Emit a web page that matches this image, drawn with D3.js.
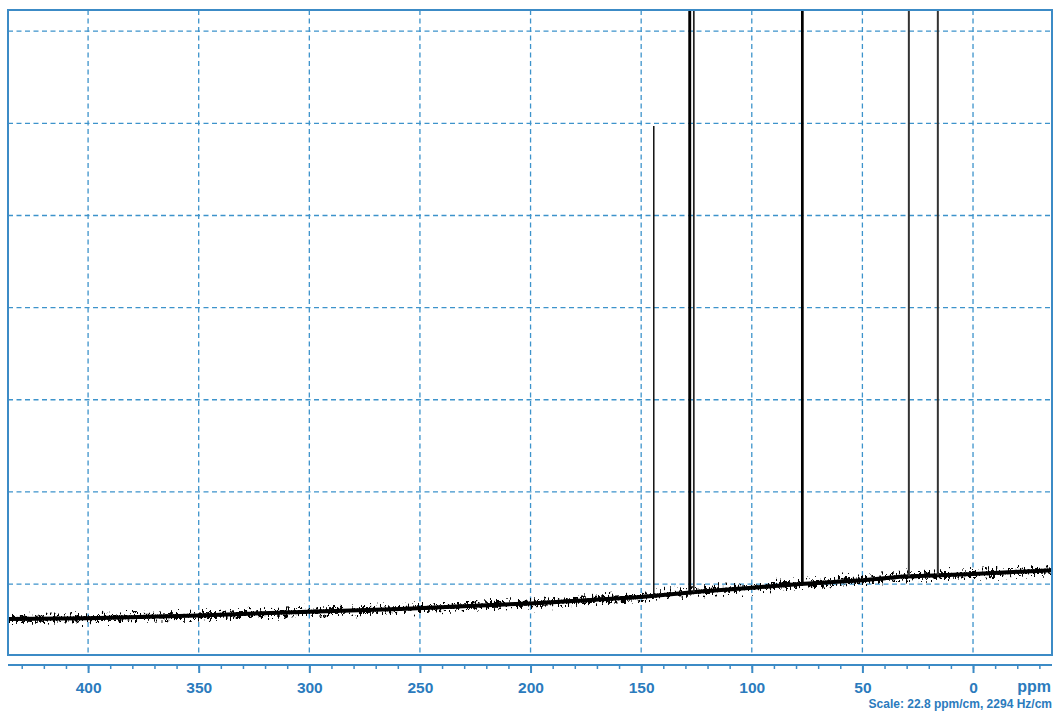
<!DOCTYPE html>
<html>
<head>
<meta charset="utf-8">
<script src="https://cdn.jsdelivr.net/npm/d3@7"></script>
<style>
  html, body { margin: 0; padding: 0; background: #ffffff; }
  svg { display: block; }
  text { font-family: "Liberation Sans", Arial, Helvetica, sans-serif; font-weight: bold; }
</style>
</head>
<body>
<svg id="chart" width="1055" height="711"></svg>
<script>
// 13C spectrum: sloping noisy baseline with sharp resonances (ppm)
const baselinePpm   = [436, 400, 350, 300, 259, 200, 150, 123, 100, 78, 50, 33, 0, -36];
const baselineLevel = [-3.8, -3.7, -3.4, -3.0, -2.7, -2.1, -1.4, -0.8, -0.4, 0.0, 0.4, 0.8, 1.1, 1.5];

// resonance positions and heights (intensity units; tall lines run off the top)
const peakPpm    = [144.3, 128.3, 127.8, 126.2, 77.4, 77.2, 76.9, 29.0, 15.9];
const peakHeight = [49.7, 140, 130, 95, 110, 115, 110, 80, 75];
const peakWidth  = [1.5, 1.8, 1.8, 1.7, 1.6, 1.6, 1.6, 2.0, 2.0];
const peakColor  = ["#111", "#000", "#000", "#222", "#000", "#000", "#000", "#333", "#333"];

const xTicks = [400, 350, 300, 250, 200, 150, 100, 50, 0];
const minorTicks = d3.range(430, -40, -10);
const yGrid = [0, 10, 20, 30, 40, 50, 60];

const frameColor = "#3c8bc6";
const gridColor  = "#3d93cb";
const labelColor = "#2b7bbd";

const plotLeft = 8, plotRight = 1052, plotTop = 10, plotBottom = 655, axisY = 665;

const x = d3.scaleLinear().domain([436.2, -35.7]).range([plotLeft, plotRight]);
const y = d3.scaleLinear().domain([-7.7, 62.3]).range([plotBottom, plotTop]);

const svg = d3.select("#chart");
const defs = svg.append("defs");

defs.append("clipPath").attr("id", "plotClip")
  .append("rect").attr("x", plotLeft).attr("y", plotTop)
  .attr("width", plotRight - plotLeft).attr("height", plotBottom - plotTop);

// jagged texture for the noisy baseline trace (vertical displacement only)
const f = defs.append("filter").attr("id", "noiseTex")
  .attr("filterUnits", "userSpaceOnUse")
  .attr("x", 0).attr("y", 520).attr("width", 1055).attr("height", 140)
  .attr("color-interpolation-filters", "sRGB");
f.append("feTurbulence").attr("type", "fractalNoise")
  .attr("baseFrequency", "0.5 0.2").attr("numOctaves", 2).attr("seed", 7).attr("result", "n");
f.append("feColorMatrix").attr("in", "n").attr("type", "matrix")
  .attr("values", "0 0 0 0 0.5  0 1 0 0 0  0 0 0 0 0  0 0 0 0 1").attr("result", "m");
f.append("feDisplacementMap").attr("in", "SourceGraphic").attr("in2", "m")
  .attr("scale", 20).attr("xChannelSelector", "R").attr("yChannelSelector", "G");

// grid
const grid = svg.append("g").attr("stroke", gridColor).attr("stroke-width", 1.3)
  .attr("stroke-dasharray", "5,3.5").attr("fill", "none");
grid.selectAll("line.v").data(xTicks).join("line").attr("class", "v")
  .attr("x1", d => x(d)).attr("x2", d => x(d)).attr("y1", plotTop).attr("y2", plotBottom);
grid.selectAll("line.h").data(yGrid).join("line").attr("class", "h")
  .attr("x1", plotLeft).attr("x2", plotRight).attr("y1", d => y(d)).attr("y2", d => y(d));

// spectrum
const plot = svg.append("g").attr("clip-path", "url(#plotClip)");
const base = d3.scaleLinear().domain(baselinePpm).range(baselineLevel);
const line = d3.line().x(d => x(d[0])).y(d => y(d[1]));
const baseData = baselinePpm.map((p, i) => [p, baselineLevel[i]]);

// dense core of the baseline band
plot.append("path").datum(baseData).attr("d", line)
  .attr("fill", "none").attr("stroke", "#000").attr("stroke-width", 4);
// ragged noise around it
plot.append("path").datum(baseData).attr("d", line)
  .attr("fill", "none").attr("stroke", "#000").attr("stroke-width", 4)
  .attr("filter", "url(#noiseTex)");

plot.selectAll("line.peak").data(peakPpm).join("line").attr("class", "peak")
  .attr("x1", d => x(d)).attr("x2", d => x(d))
  .attr("y1", d => y(base(d)))
  .attr("y2", (d, i) => y(peakHeight[i]))
  .attr("stroke", (d, i) => peakColor[i])
  .attr("stroke-width", (d, i) => peakWidth[i]);

// frame
svg.append("rect").attr("x", plotLeft).attr("y", plotTop)
  .attr("width", plotRight - plotLeft).attr("height", plotBottom - plotTop)
  .attr("fill", "none").attr("stroke", frameColor).attr("stroke-width", 2);

// ppm axis
const axis = svg.append("g").attr("transform", `translate(0,${axisY})`);
axis.call(d3.axisBottom(x).tickValues(minorTicks).tickSize(4).tickSizeOuter(0).tickFormat(""));
axis.select(".domain").attr("stroke", frameColor).attr("stroke-width", 2)
  .attr("d", `M${plotLeft},0H${plotRight}`);
axis.selectAll(".tick line").attr("stroke", frameColor).attr("stroke-width", 1.5);

const major = svg.append("g").attr("transform", `translate(0,${axisY})`);
major.call(d3.axisBottom(x).tickValues(xTicks).tickSize(8).tickSizeOuter(0).tickPadding(9));
major.select(".domain").remove();
major.selectAll(".tick line").attr("stroke", frameColor).attr("stroke-width", 2);
major.selectAll(".tick text")
  .attr("fill", labelColor).attr("font-size", 15.5).attr("font-weight", "bold")
  .attr("font-family", "'Liberation Sans', Arial, Helvetica, sans-serif");

svg.append("text").attr("x", 1051).attr("y", 692).attr("text-anchor", "end")
  .attr("fill", labelColor).attr("font-size", 16).text("ppm");
svg.append("text").attr("x", 1052).attr("y", 708).attr("text-anchor", "end")
  .attr("fill", labelColor).attr("font-size", 12).text("Scale: 22.8 ppm/cm, 2294 Hz/cm");
</script>
</body>
</html>
